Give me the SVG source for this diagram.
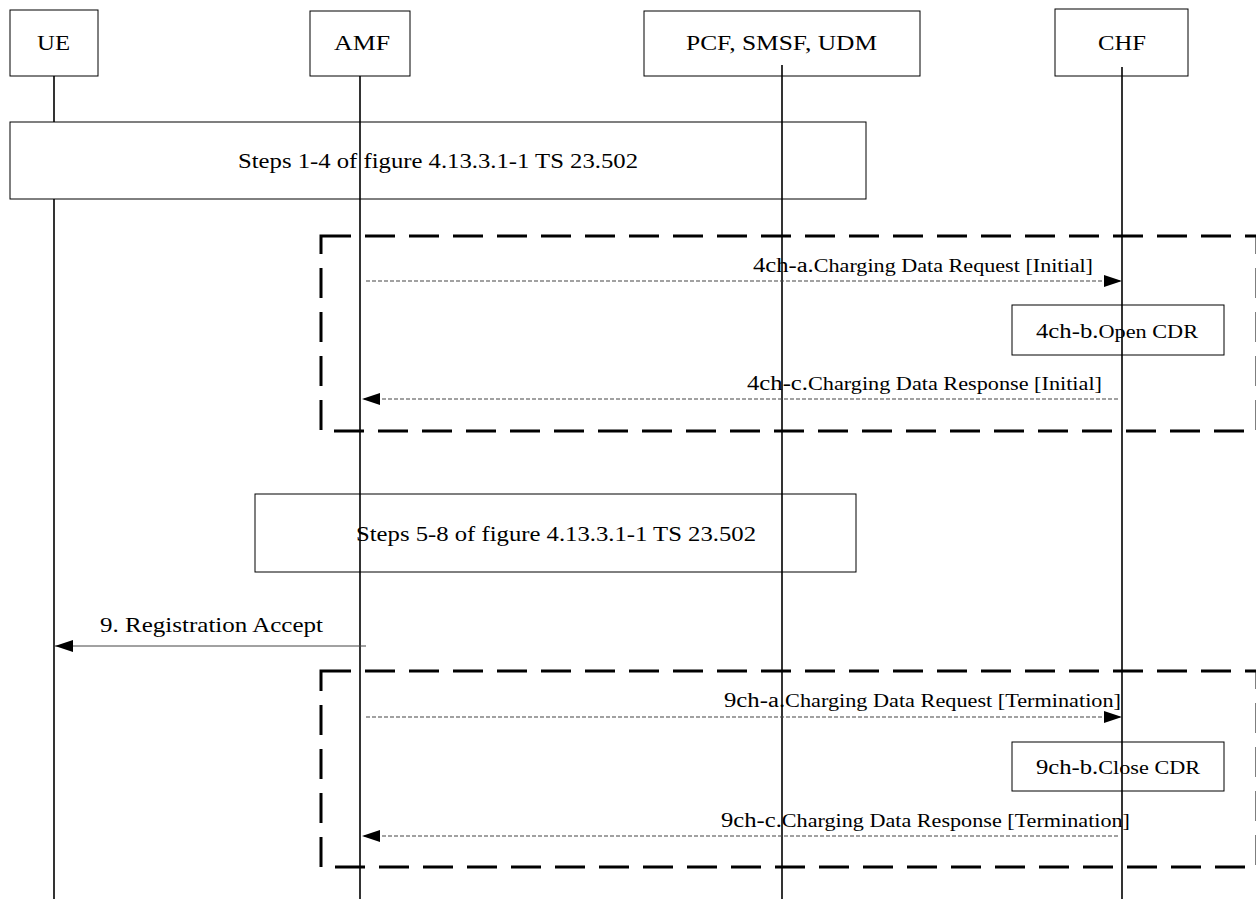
<svg xmlns="http://www.w3.org/2000/svg" width="1256" height="899" viewBox="0 0 1256 899">
<style>
text{font-family:"Liberation Serif","Times New Roman",serif;fill:#000}
.box{fill:#fff;stroke:#000;stroke-width:1}
.life{stroke:#000;stroke-width:1.6;fill:none}
.frame{fill:none;stroke:#000;stroke-width:3;stroke-dasharray:30,14}
.msg{stroke:#444;stroke-width:1;fill:none}
.dmsg{stroke:#444;stroke-width:1.2;fill:none;stroke-dasharray:4,2}
.t22{font-size:22px}
.t20{font-size:20px}
.t18{font-size:18px}
</style>
<defs>
<marker id="ah" markerWidth="18" markerHeight="12" refX="18" refY="6" orient="auto" markerUnits="userSpaceOnUse">
<path d="M0,0 L18,6 L0,12 Z" fill="#000"/>
</marker>
</defs>
<rect width="1256" height="899" fill="#fff"/>
<g id="ue"><rect class="box" x="10" y="10" width="88" height="66"/><text class="t22" x="37" y="50" textLength="33" lengthAdjust="spacingAndGlyphs">UE</text></g>
<g id="amf"><rect class="box" x="310" y="11" width="100" height="65"/><text class="t22" x="334" y="50" textLength="56" lengthAdjust="spacingAndGlyphs">AMF</text></g>
<g id="pcf"><rect class="box" x="644" y="11" width="276" height="65"/><text class="t22" x="686" y="50" textLength="191" lengthAdjust="spacingAndGlyphs">PCF, SMSF, UDM</text></g>
<g id="chf"><rect class="box" x="1055" y="9" width="133" height="67"/><text class="t22" x="1098" y="50" textLength="48" lengthAdjust="spacingAndGlyphs">CHF</text></g>
<g id="lifeline-ue"><line class="life" x1="54" y1="76" x2="54" y2="899"/></g>
<g id="steps1-4">
<rect class="box" x="10" y="122" width="856" height="77"/>
<text class="t22" x="238" y="168" textLength="400" lengthAdjust="spacingAndGlyphs">Steps 1-4 of figure 4.13.3.1-1 TS 23.502</text>
</g>
<g id="steps5-8">
<rect class="box" x="255" y="494" width="601" height="78"/>
<text class="t22" x="356" y="541" textLength="400" lengthAdjust="spacingAndGlyphs">Steps 5-8 of figure 4.13.3.1-1 TS 23.502</text>
</g>
<g id="open-cdr">
<rect class="box" x="1012" y="305" width="212" height="50"/>
<text x="1036" y="338" textLength="162" lengthAdjust="spacingAndGlyphs"><tspan class="t20">4ch-b.</tspan><tspan class="t18">Open CDR</tspan></text>
</g>
<g id="close-cdr">
<rect class="box" x="1012" y="742" width="212" height="49"/>
<text x="1036" y="774" textLength="164" lengthAdjust="spacingAndGlyphs"><tspan class="t20">9ch-b.</tspan><tspan class="t18">Close CDR</tspan></text>
</g>
<g id="lifelines">
<line class="life" x1="360" y1="76" x2="360" y2="899"/>
<line class="life" x1="782" y1="65" x2="782" y2="899"/>
<line class="life" x1="1122" y1="67" x2="1122" y2="899"/>
</g>
<g id="frame-4ch"><rect class="frame" x="321" y="236" width="936" height="195"/></g>
<g id="frame-9ch"><rect class="frame" x="321" y="671" width="936" height="196"/></g>
<g id="connectors">
<line class="dmsg" x1="366" y1="281" x2="1122" y2="281" marker-end="url(#ah)"/>
<text x="753" y="272" textLength="340" lengthAdjust="spacingAndGlyphs"><tspan class="t20">4ch-a.</tspan><tspan class="t18">Charging Data Request [Initial]</tspan></text>
<line class="dmsg" x1="1118" y1="399" x2="362" y2="399" marker-end="url(#ah)"/>
<text x="747" y="390" textLength="355" lengthAdjust="spacingAndGlyphs"><tspan class="t20">4ch-c.</tspan><tspan class="t18">Charging Data Response [Initial]</tspan></text>
<line class="msg" x1="366" y1="646" x2="55" y2="646" marker-end="url(#ah)"/>
<text class="t22" x="100" y="632" textLength="223" lengthAdjust="spacingAndGlyphs">9. Registration Accept</text>
<line class="dmsg" x1="366" y1="717" x2="1122" y2="717" marker-end="url(#ah)"/>
<text x="724" y="707" textLength="397" lengthAdjust="spacingAndGlyphs"><tspan class="t20">9ch-a.</tspan><tspan class="t18">Charging Data Request [Termination]</tspan></text>
<line class="dmsg" x1="1118" y1="836" x2="362" y2="836" marker-end="url(#ah)"/>
<text x="721" y="827" textLength="409" lengthAdjust="spacingAndGlyphs"><tspan class="t20">9ch-c.</tspan><tspan class="t18">Charging Data Response [Termination]</tspan></text>
</g>
</svg>
